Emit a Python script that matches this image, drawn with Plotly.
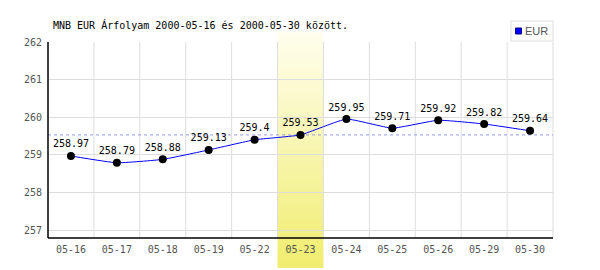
import plotly.graph_objects as go

dates = ["05-16", "05-17", "05-18", "05-19", "05-22", "05-23", "05-24", "05-25", "05-26", "05-29", "05-30"]
eur = [258.97, 258.79, 258.88, 259.13, 259.4, 259.53, 259.95, 259.71, 259.92, 259.82, 259.64]
labels = ["258.97", "258.79", "258.88", "259.13", "259.4", "259.53", "259.95", "259.71", "259.92", "259.82", "259.64"]
yticks = [257, 258, 259, 260, 261, 262]
highlight = "05-23"
ref_value = 259.53
series_name = "EUR"
title_text = "MNB EUR Árfolyam 2000-05-16 és 2000-05-30 között."

W, H = 600, 270
L, R, T, B = 48, 47, 42, 32
pw = W - L - R
ph = H - T - B

MONO = "DejaVu Sans Mono"

fig = go.Figure()
fig.add_trace(go.Scatter(
    x=dates, y=eur, mode="lines+markers+text", name=series_name,
    line=dict(color="#0000ff", width=1, shape="spline", smoothing=0.4),
    marker=dict(color="#000000", size=8),
    text=labels, textposition="top center",
    textfont=dict(family=MONO, size=10, color="#000000"),
    showlegend=False, cliponaxis=False,
))

def px_x(px):
    return (px - L) / pw

def px_y(py):
    return (H - B - py) / ph

shapes = []
# gradient highlight band
hi = dates.index(highlight)
top_px, bot_px = 33, 268
n = 40
c0 = (255, 254, 238)
c1 = (240, 237, 110)
for i in range(n):
    f = (i + 0.5) / n
    y_top = top_px + (bot_px - top_px) * i / n
    y_bot = top_px + (bot_px - top_px) * (i + 1) / n
    col = tuple(int(round(c0[k] + (c1[k] - c0[k]) * f)) for k in range(3))
    shapes.append(dict(type="rect", xref="x", yref="paper",
                       x0=hi - 0.5, x1=hi + 0.5,
                       y0=px_y(y_bot), y1=px_y(y_top) + 0.003,
                       fillcolor="rgb(%d,%d,%d)" % col, line=dict(width=0), layer="below"))
# vertical gridlines at category boundaries
for i in range(1, len(dates)):
    shapes.append(dict(type="line", xref="x", yref="paper", x0=i - 0.5, x1=i - 0.5,
                       y0=0, y1=1, line=dict(color="#dddddd", width=1), layer="below"))
shapes.append(dict(type="line", xref="paper", yref="paper", x0=1, x1=1, y0=0, y1=1,
                   line=dict(color="#dddddd", width=1), layer="below"))
# reference dashed line
shapes.append(dict(type="line", xref="paper", yref="y", x0=0, x1=1, y0=ref_value, y1=ref_value,
                   line=dict(color="#9999ee", width=1, dash="3px,3px"), layer="below"))
# axes lines
shapes.append(dict(type="line", xref="paper", yref="paper", x0=0, x1=0, y0=0, y1=1,
                   line=dict(color="#000000", width=1.5)))
shapes.append(dict(type="line", xref="paper", yref="paper", x0=0, x1=1, y0=0, y1=0,
                   line=dict(color="#000000", width=1.5)))
# manual legend box
shapes.append(dict(type="rect", xref="paper", yref="paper",
                   x0=px_x(511), x1=px_x(553), y0=px_y(41), y1=px_y(21),
                   fillcolor="#ffffff", line=dict(color="#dddddd", width=1)))
shapes.append(dict(type="rect", xref="paper", yref="paper",
                   x0=px_x(515.5), x1=px_x(521.5), y0=px_y(34), y1=px_y(28),
                   fillcolor="#0000ff", line=dict(color="#000088", width=1)))

annotations = [dict(text=series_name, xref="paper", yref="paper", x=px_x(523), y=px_y(31),
                    xanchor="left", yanchor="middle", showarrow=False,
                    font=dict(family="Liberation Sans", size=11, color="#555555"))]

fig.update_layout(
    width=W, height=H,
    margin=dict(l=L, r=R, t=T, b=B),
    paper_bgcolor="#ffffff", plot_bgcolor="rgba(0,0,0,0)",
    shapes=shapes, annotations=annotations,
    title=dict(text=title_text,
               x=53 / W, xanchor="left", y=1 - 25 / H, yanchor="middle",
               font=dict(family=MONO, size=10, color="#000000")),
    showlegend=False,
    xaxis=dict(type="category", categoryorder="array", categoryarray=dates,
               range=[-0.5, len(dates) - 0.5],
               showgrid=False, tickfont=dict(family=MONO, size=10, color="#555555"),
               ticks="", showline=False, zeroline=False, ticklabelstandoff=4),
    yaxis=dict(range=[256.79, 262.0], tickvals=yticks,
               showgrid=True, gridcolor="#dddddd", gridwidth=1,
               tickfont=dict(family=MONO, size=10, color="#555555"),
               ticks="", showline=False, zeroline=False, ticklabelstandoff=5),
)

fig.write_html("out.html")
